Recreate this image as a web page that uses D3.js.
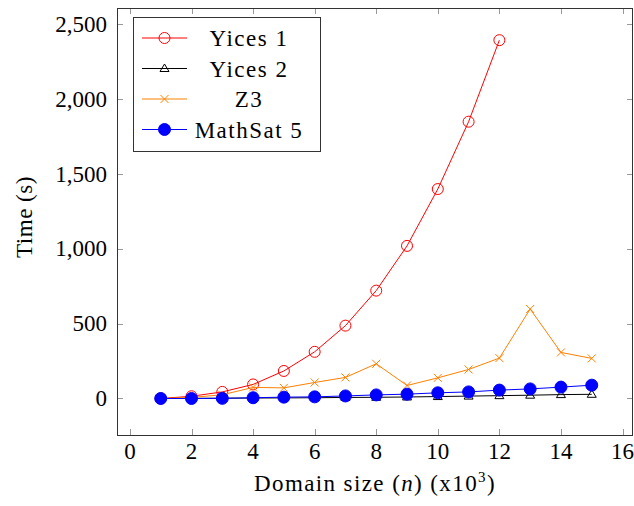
<!DOCTYPE html>
<html>
<head>
<meta charset="utf-8">
<script src="https://cdn.jsdelivr.net/npm/d3@7"></script>
<style>
  body { margin: 0; background: #fff; }
</style>
</head>
<body>
<div id="main"></div>
<script>
// data
var sizes = [1, 2, 3, 4, 5, 6, 7, 8, 9, 10, 11, 12, 13, 14, 15];
var yices1 = [0, 15, 44, 94, 184, 312, 487, 721, 1020, 1400, 1850, 2395];
var yices2 = [0, 1, 2, 3, 4, 5, 7, 8, 10, 13, 16, 19, 22, 26, 28];
var z3 = [0, 7, 25, 74, 71, 107, 141, 232, 87, 138, 194, 270, 598, 308, 268];
var mathsat5 = [0, 0, 1, 5, 9, 11, 17, 24, 29, 38, 44, 56, 64, 76, 89];
var xTicks = [0, 2, 4, 6, 8, 10, 12, 14, 16];
var yTicks = [0, 500, 1000, 1500, 2000, 2500];

var W = 634, H = 506;
var pLeft = 117, pRight = 633, pTop = 8, pBottom = 435;
var font = "'Liberation Serif', 'Times New Roman', serif";

var svg = d3.select("#main")
  .append("svg")
    .attr("width", W)
    .attr("height", H);

var xScale = d3.scaleLinear()
  .domain([-0.42, 16.34])
  .range([pLeft, pRight]);

var yScale = d3.scaleLinear()
  .domain([-244, 2610])
  .range([pBottom, pTop]);

var series = [
  {name: "Yices 1", values: yices1, color: "#ff0000", marker: "circle"},
  {name: "Yices 2", values: yices2, color: "#000000", marker: "triangle"},
  {name: "Z3", values: z3, color: "#ff8000", marker: "cross"},
  {name: "MathSat 5", values: mathsat5, color: "#0000ff", marker: "dot"}
];

// ticks, inside the frame on all four sides
var tickLen = 6;
var tickG = svg.append("g").attr("stroke", "#999").attr("stroke-width", 1);
xTicks.forEach(function(t) {
  var x = Math.round(xScale(t)) + 0.5;
  tickG.append("line").attr("x1", x).attr("x2", x).attr("y1", pBottom).attr("y2", pBottom - tickLen);
  tickG.append("line").attr("x1", x).attr("x2", x).attr("y1", pTop).attr("y2", pTop + tickLen);
});
yTicks.forEach(function(t) {
  var y = Math.round(yScale(t)) + 0.5;
  tickG.append("line").attr("x1", pLeft).attr("x2", pLeft + tickLen).attr("y1", y).attr("y2", y);
  tickG.append("line").attr("x1", pRight).attr("x2", pRight - tickLen).attr("y1", y).attr("y2", y);
});

// tick labels
svg.selectAll(".xlab")
  .data(xTicks)
  .enter()
  .append("text")
    .attr("class", "xlab")
    .attr("x", function(d) { return xScale(d); })
    .attr("y", 459)
    .style("text-anchor", "middle")
    .style("font-family", font)
    .style("font-size", "23px")
    .text(function(d) { return d; });

svg.selectAll(".ylab")
  .data(yTicks)
  .enter()
  .append("text")
    .attr("class", "ylab")
    .attr("x", 107)
    .attr("y", function(d) { return yScale(d) + 7.5; })
    .style("text-anchor", "end")
    .style("font-family", font)
    .style("font-size", "23px")
    .text(function(d) { return d3.format(",")(d); });

// lines and markers
var line = d3.line()
  .x(function(d, i) { return xScale(sizes[i]); })
  .y(function(d) { return yScale(d); });

function drawMarker(g, kind, color, x, y) {
  if (kind === "circle") {
    g.append("circle").attr("cx", x).attr("cy", y).attr("r", 5.5)
      .attr("fill", "none").attr("stroke", color).attr("stroke-width", 1);
  } else if (kind === "dot") {
    g.append("circle").attr("cx", x).attr("cy", y).attr("r", 6)
      .attr("fill", color).attr("stroke", color);
  } else if (kind === "triangle") {
    g.append("path")
      .attr("d", "M" + x + "," + (y - 4.5) + "L" + (x + 4.5) + "," + (y + 3) + "L" + (x - 4.5) + "," + (y + 3) + "Z")
      .attr("fill", "none").attr("stroke", color).attr("stroke-width", 1);
  } else if (kind === "cross") {
    var s = 4;
    g.append("path")
      .attr("d", "M" + (x - s) + "," + (y - s) + "L" + (x + s) + "," + (y + s) + "M" + (x - s) + "," + (y + s) + "L" + (x + s) + "," + (y - s))
      .attr("fill", "none").attr("stroke", color).attr("stroke-width", 1);
  }
}

series.forEach(function(s) {
  svg.append("path")
    .datum(s.values)
    .attr("d", line)
    .attr("fill", "none")
    .attr("stroke", s.color)
    .attr("stroke-width", 1);
  var g = svg.append("g");
  s.values.forEach(function(v, i) {
    drawMarker(g, s.marker, s.color, xScale(sizes[i]), yScale(v));
  });
});

// frame
svg.append("rect")
  .attr("x", pLeft + 0.5)
  .attr("y", pTop + 0.5)
  .attr("width", pRight - pLeft - 1)
  .attr("height", pBottom - pTop)
  .attr("fill", "none")
  .attr("stroke", "#333")
  .attr("stroke-width", 1);

// legend
var legend = svg.append("g");
legend.append("rect")
  .attr("x", 133.5).attr("y", 17.5)
  .attr("width", 187).attr("height", 134)
  .attr("fill", "#fff").attr("stroke", "#333").attr("stroke-width", 1);
series.forEach(function(s, i) {
  var y = 38 + i * 30.5;
  legend.append("line")
    .attr("x1", 142).attr("x2", 187).attr("y1", y).attr("y2", y)
    .attr("stroke", s.color).attr("stroke-width", 1);
  drawMarker(legend, s.marker, s.color, 164.5, y);
  legend.append("text")
    .attr("x", 249).attr("y", y + 8)
    .style("text-anchor", "middle")
    .style("font-family", font)
    .style("font-size", "23px")
    .style("letter-spacing", "1.5px")
    .text(s.name);
});

// axis labels
svg.append("text")
  .attr("transform", "translate(32,217)rotate(-90)")
  .style("text-anchor", "middle")
  .style("font-family", font)
  .style("font-size", "23px")
  .style("letter-spacing", "0.5px")
  .text("Time (s)");

var xl = svg.append("text")
  .attr("x", (pLeft + pRight) / 2)
  .attr("y", 491)
  .style("text-anchor", "middle")
  .style("font-family", font)
  .style("font-size", "23px")
  .style("letter-spacing", "1.4px");
xl.append("tspan").text("Domain size (");
xl.append("tspan").style("font-style", "italic").text("n");
xl.append("tspan").text(") (x10");
xl.append("tspan").attr("dy", -9).style("font-size", "15px").text("3");
xl.append("tspan").attr("dy", 9).text(")");
</script>
</body>
</html>
